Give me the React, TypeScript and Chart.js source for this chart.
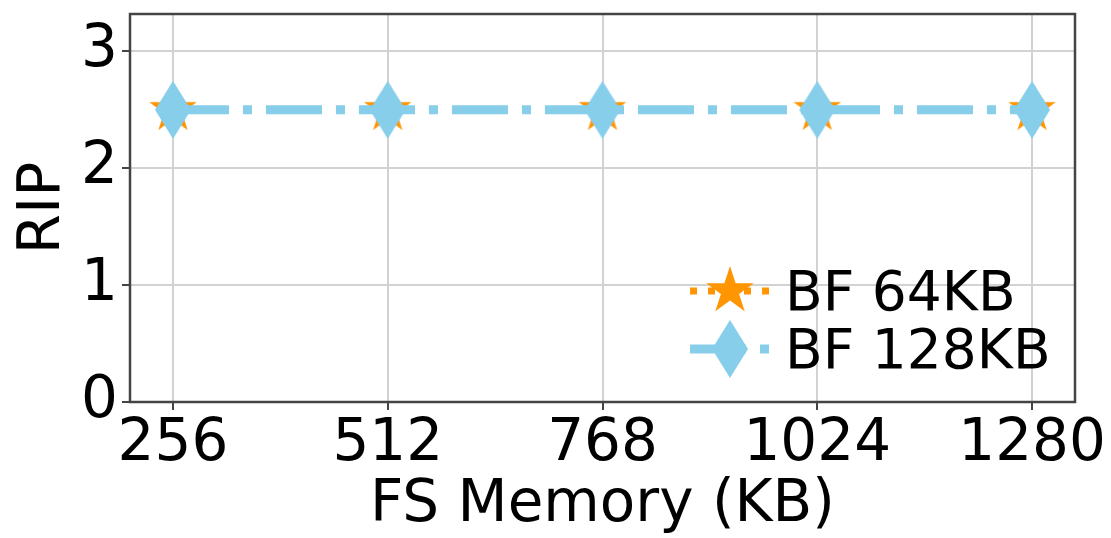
import React, { useEffect, useRef } from "react";
import { Chart, registerables } from "chart.js";

Chart.register(...registerables);

// ---- data ----
const xValues = [256, 512, 768, 1024, 1280];
const bf64 = [2.5, 2.5, 2.5, 2.5, 2.5];
const bf128 = [2.5, 2.5, 2.5, 2.5, 2.5];
const xTicks = [256, 512, 768, 1024, 1280];
const yTicks = [0, 1, 2, 3];
const seriesLabels = ["BF 64KB", "BF 128KB"];
const xTitle = "FS Memory (KB)";
const yTitle = "RIP";

// ---- styles ----
const ORANGE = "#FF9500";
const BLUE = "#87CEEB";
const FONT = "DejaVu Sans";
const GRID = "#d2d2d2";
const AXIS = "#444444";
const BLUE_DASH = [56, 14, 9, 14];
const ORANGE_DASH = [7, 11];

function makeStar(R: number, color: string): HTMLCanvasElement {
  const size = Math.ceil(2 * R + 4);
  const c = document.createElement("canvas");
  c.width = size;
  c.height = size;
  const ctx = c.getContext("2d")!;
  const cx = size / 2;
  const cy = size / 2;
  ctx.beginPath();
  for (let i = 0; i < 10; i++) {
    const a = -Math.PI / 2 + (i * Math.PI) / 5;
    const r = i % 2 === 0 ? R : R * 0.381966;
    const px = cx + r * Math.cos(a);
    const py = cy + r * Math.sin(a);
    if (i === 0) ctx.moveTo(px, py);
    else ctx.lineTo(px, py);
  }
  ctx.closePath();
  ctx.fillStyle = color;
  ctx.fill();
  return c;
}

function makeThinDiamond(hw: number, hh: number, color: string): HTMLCanvasElement {
  const w = Math.ceil(2 * hw + 4);
  const h = Math.ceil(2 * hh + 4);
  const c = document.createElement("canvas");
  c.width = w;
  c.height = h;
  const ctx = c.getContext("2d")!;
  const cx = w / 2;
  const cy = h / 2;
  ctx.beginPath();
  ctx.moveTo(cx, cy - hh);
  ctx.lineTo(cx + hw, cy);
  ctx.lineTo(cx, cy + hh);
  ctx.lineTo(cx - hw, cy);
  ctx.closePath();
  ctx.fillStyle = color;
  ctx.fill();
  return c;
}

const zeroPad = () => ({ left: 0, top: 0, right: 0, bottom: 0 });

export default function App() {
  const ref = useRef<HTMLCanvasElement | null>(null);

  useEffect(() => {
    if (!ref.current) return;
    const star = makeStar(25, ORANGE);
    const diamond = makeThinDiamond(18, 29, BLUE);

    const framePlugin = {
      id: "frameAndLegend",
      afterDraw(chart: any) {
        const ctx = chart.ctx as CanvasRenderingContext2D;
        const { left, top, right, bottom } = chart.chartArea;
        // legend (no frame, transparent)
        const entries = [
          { label: seriesLabels[0], color: ORANGE, dash: ORANGE_DASH, lw: 7, img: star, y: bottom - 111 },
          { label: seriesLabels[1], color: BLUE, dash: BLUE_DASH, lw: 9, img: diamond, y: bottom - 53 },
        ];
        const lx0 = right - 385;
        const lx1 = right - 305;
        const lxm = (lx0 + lx1) / 2;
        ctx.save();
        for (const e of entries) {
          ctx.beginPath();
          ctx.setLineDash(e.dash);
          ctx.lineDashOffset = 0;
          ctx.lineWidth = e.lw;
          ctx.strokeStyle = e.color;
          ctx.lineCap = "butt";
          ctx.moveTo(lx0, e.y);
          ctx.lineTo(lx1, e.y);
          ctx.stroke();
          ctx.setLineDash([]);
          ctx.drawImage(e.img, lxm - e.img.width / 2, e.y - e.img.height / 2);
          ctx.fillStyle = "#000";
          ctx.font = `55px "${FONT}"`;
          ctx.textAlign = "left";
          ctx.textBaseline = "alphabetic";
          ctx.fillText(e.label, right - 290, e.y + 19);
        }
        // frame
        ctx.lineWidth = 2.5;
        ctx.strokeStyle = AXIS;
        ctx.strokeRect(left, top, right - left, bottom - top);
        ctx.restore();
      },
    };

    const chart = new Chart(ref.current, {
      type: "line",
      data: {
        datasets: [
          {
            label: seriesLabels[0],
            data: xValues.map((x, i) => ({ x, y: bf64[i] })),
            borderColor: ORANGE,
            backgroundColor: ORANGE,
            borderWidth: 7,
            // same phase as the blue dash so it stays hidden beneath it, as in the reference
            borderDash: BLUE_DASH,
            pointStyle: star as any,
            pointRadius: 25,
            fill: false,
            order: 1,
          },
          {
            label: seriesLabels[1],
            data: xValues.map((x, i) => ({ x, y: bf128[i] })),
            borderColor: BLUE,
            backgroundColor: BLUE,
            borderWidth: 9,
            borderDash: BLUE_DASH,
            pointStyle: diamond as any,
            pointRadius: 29,
            fill: false,
            order: 0,
          },
        ],
      },
      options: {
        animation: false,
        responsive: false,
        devicePixelRatio: 1,
        layout: { autoPadding: false, padding: { left: 0, right: 36, top: 14, bottom: 0 } },
        plugins: {
          legend: { display: false },
          tooltip: { enabled: false },
        },
        scales: {
          x: {
            type: "linear",
            min: 204.8,
            max: 1331.2,
            afterBuildTicks: (s: any) => {
              s.ticks = xTicks.map((v) => ({ value: v }));
            },
            afterFit: (s: any) => {
              s.height = 136;
              s.paddingLeft = 0;
              s.paddingRight = 0;
              s.getPadding = zeroPad;
            },
            grid: {
              color: GRID,
              lineWidth: 2,
              drawTicks: true,
              tickLength: 8,
              tickColor: AXIS,
              tickWidth: 2,
            },
            border: { display: false },
            ticks: {
              color: "#000",
              font: { family: FONT, size: 58 },
              padding: 0,
              maxRotation: 0,
              autoSkip: false,
              callback: (v: any) => String(v),
            },
            title: {
              display: true,
              text: xTitle,
              color: "#000",
              font: { family: FONT, size: 58 },
              padding: { top: 0, bottom: -3 },
            },
          },
          y: {
            type: "linear",
            min: 0,
            max: 3.32,
            afterBuildTicks: (s: any) => {
              s.ticks = yTicks.map((v) => ({ value: v }));
            },
            afterFit: (s: any) => {
              s.width = 130;
              s.paddingTop = 0;
              s.paddingBottom = 0;
              s.getPadding = zeroPad;
            },
            grid: {
              color: GRID,
              lineWidth: 2,
              drawTicks: true,
              tickLength: 8,
              tickColor: AXIS,
              tickWidth: 2,
            },
            border: { display: false },
            ticks: {
              color: "#000",
              font: { family: FONT, size: 58 },
              padding: 4,
              callback: (v: any) => String(v),
            },
            title: {
              display: true,
              text: yTitle,
              color: "#000",
              font: { family: FONT, size: 58 },
              padding: { top: 9, bottom: 0 },
            },
          },
        },
      },
      plugins: [framePlugin],
    });

    return () => {
      chart.destroy();
    };
  }, []);

  return (
    <div style={{ position: "fixed", left: 0, top: 0, width: 1111, height: 538, background: "#fff" }}>
      <canvas ref={ref} width={1111} height={538} style={{ width: 1111, height: 538, display: "block" }} />
    </div>
  );
}
